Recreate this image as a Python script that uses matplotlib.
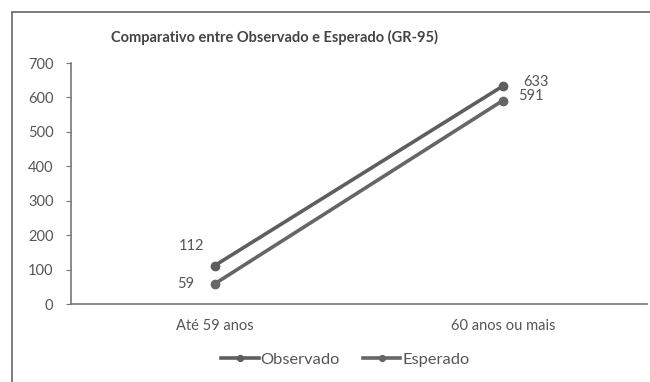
import matplotlib.pyplot as plt
from matplotlib.patches import Rectangle

plt.rcParams['font.family'] = ['Lato', 'DejaVu Sans']

categories = ["Até 59 anos", "60 anos ou mais"]
observado = [112, 633]
esperado = [59, 591]
yticks = [0, 100, 200, 300, 400, 500, 600, 700]

txt = "#555555"
line_c = "#5e5e5e"

fig = plt.figure(figsize=(6.5, 3.82), dpi=100)
ax = fig.add_axes([0.109, 0.204, 0.886, 0.631])

x = range(len(categories))
ax.plot(x, observado, color=line_c, lw=2.6, marker="o", ms=6, label="Observado")
ax.plot(x, esperado, color="#666666", lw=2.6, marker="o", ms=6, label="Esperado")

ax.set_xlim(-0.5, 1.5)
ax.set_ylim(0, 700)
ax.set_yticks(yticks)
ax.set_xticks(list(x))
ax.set_xticklabels(categories)
ax.tick_params(axis="y", colors=txt, labelsize=10.5, length=3.5, pad=9, color="#777777")
ax.tick_params(axis="x", colors=txt, labelsize=10.5, length=0, pad=11)
for s in ["top", "right"]:
    ax.spines[s].set_visible(False)
for s in ["left", "bottom"]:
    ax.spines[s].set_color("#777777")
    ax.spines[s].set_linewidth(1.2)

# data labels
ax.annotate(str(observado[0]), (0, observado[0]), xytext=(-17, 14), textcoords="offset points",
            color=txt, fontsize=10.5, ha="center", va="center")
ax.annotate(str(esperado[0]), (0, esperado[0]), xytext=(-21, 0), textcoords="offset points",
            color=txt, fontsize=10.5, ha="center", va="center")
ax.annotate(str(observado[1]), (1, observado[1]), xytext=(24, 3), textcoords="offset points",
            color=txt, fontsize=10.5, ha="center", va="center")
ax.annotate(str(esperado[1]), (1, esperado[1]), xytext=(20, 3.5), textcoords="offset points",
            color=txt, fontsize=10.5, ha="center", va="center")

fig.text(0.423, 0.903, "Comparativo entre Observado e Esperado (GR-95)", ha="center", va="center",
         fontsize=10.5, color="#444444", fontweight="bold")

leg = fig.legend(loc="center", bbox_to_anchor=(0.531, 0.058), ncol=2, frameon=False,
                 fontsize=11.8, handlelength=2.3, handletextpad=0.1, columnspacing=1.4,
                 markerscale=0.7)
for t in leg.get_texts():
    t.set_color(txt)

fig.patches.append(Rectangle((0.019, -0.05), 1.1, 1.018, transform=fig.transFigure,
                             fill=False, edgecolor="#666666", lw=1.2))

fig.savefig("out.png", dpi=100, facecolor="white")
